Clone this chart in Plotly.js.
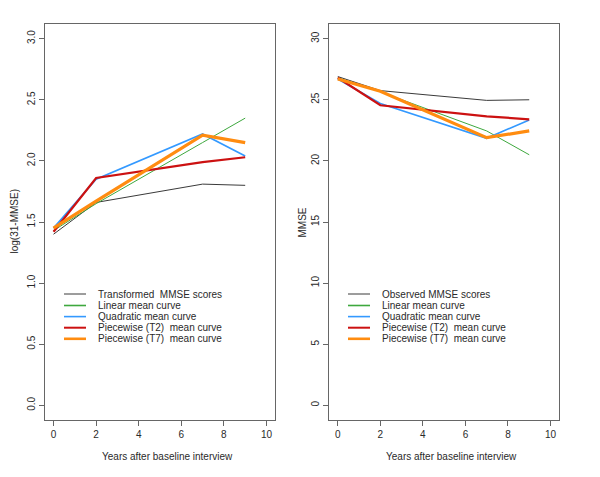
<!DOCTYPE html>
<html>
<head>
<meta charset="utf-8">
<script src="https://cdn.plot.ly/plotly-3.0.1.min.js"></script>
<style>html,body{margin:0;padding:0;background:#fff;}#chart{width:600px;height:477px;}</style>
</head>
<body>
<div id="chart"></div>
<script>
// ---- data ----
var years = [0, 2, 7, 9];

// left panel: log(31-MMSE)
var logObserved  = [1.40, 1.66, 1.81, 1.80];
var logLinear    = [1.43, 1.65, 2.15, 2.35];
var logQuadratic = [1.45, 1.85, 2.22, 2.04];
var logPwT2      = [1.42, 1.86, 1.99, 2.03];
var logPwT7      = [1.45, 1.67, 2.21, 2.15];

// right panel: MMSE
var mmseObserved  = [26.9, 25.75, 24.95, 25.0];
var mmseLinear    = [26.8, 25.65, 22.45, 20.5];
var mmseQuadratic = [26.7, 24.7, 21.85, 23.35];
var mmsePwT2      = [26.8, 24.55, 23.65, 23.4];
var mmsePwT7      = [26.7, 25.7, 21.9, 22.45];

var leftLabels  = ["Transformed  MMSE scores", "Linear mean curve", "Quadratic mean curve", "Piecewise (T2)  mean curve", "Piecewise (T7)  mean curve"];
var rightLabels = ["Observed MMSE scores", "Linear mean curve", "Quadratic mean curve", "Piecewise (T2)  mean curve", "Piecewise (T7)  mean curve"];

var xTickVals = [0, 2, 4, 6, 8, 10];
var leftYTicks = [0, 0.5, 1, 1.5, 2, 2.5, 3];
var leftYTickText = ["0.0", "0.5", "1.0", "1.5", "2.0", "2.5", "3.0"];
var rightYTicks = [0, 5, 10, 15, 20, 25, 30];

// ---- styles ----
var colors = ["#3a3a3a", "#3ea83e", "#3399ff", "#cc1111", "#ff8c10"];
var widths = [1, 1, 1.6, 2.2, 3.2];
var legendWidths = [1, 1.6, 1.6, 2, 2.6];

var leftSeries = [logObserved, logLinear, logQuadratic, logPwT2, logPwT7];
var rightSeries = [mmseObserved, mmseLinear, mmseQuadratic, mmsePwT2, mmsePwT7];

var traces = [];
leftSeries.forEach(function (s, i) {
  traces.push({x: years, y: s, type: "scatter", mode: "lines", name: leftLabels[i],
    line: {color: colors[i], width: widths[i]}, xaxis: "x", yaxis: "y", showlegend: false});
});
rightSeries.forEach(function (s, i) {
  traces.push({x: years, y: s, type: "scatter", mode: "lines", name: rightLabels[i],
    line: {color: colors[i], width: widths[i]}, xaxis: "x2", yaxis: "y2", showlegend: false});
});

var W = 600, H = 477;
function px(x) { return x / W; }
function py(y) { return 1 - y / H; }

var font = {family: "Liberation Sans, Arial, sans-serif", size: 10, color: "#2a2a2a"};
var axisCommon = {
  showgrid: false, zeroline: false, showline: true, mirror: true,
  linecolor: "#666", linewidth: 1, ticks: "outside", ticklen: 5, tickcolor: "#666",
  tickfont: font, fixedrange: true
};

var shapes = [], annotations = [];
var rowY = [294, 305.5, 316.6, 327.7, 338.8];
function legend(lineX0, lineX1, textX, labels) {
  labels.forEach(function (lab, i) {
    shapes.push({type: "line", xref: "paper", yref: "paper",
      x0: px(lineX0), x1: px(lineX1), y0: py(rowY[i]), y1: py(rowY[i]),
      line: {color: colors[i], width: legendWidths[i]}});
    annotations.push({xref: "paper", yref: "paper", x: px(textX), y: py(rowY[i]),
      xanchor: "left", yanchor: "middle", text: lab, showarrow: false, font: font});
  });
}
legend(64, 86, 96, leftLabels);
legend(348, 370, 380, rightLabels);

annotations.push({xref: "paper", yref: "paper", x: px(167), y: py(456.7), xanchor: "center", yanchor: "middle",
  text: "Years after baseline interview", showarrow: false, font: font});
annotations.push({xref: "paper", yref: "paper", x: px(451.5), y: py(456.7), xanchor: "center", yanchor: "middle",
  text: "Years after baseline interview", showarrow: false, font: font});
annotations.push({xref: "paper", yref: "paper", x: px(13.5), y: py(222), xanchor: "center", yanchor: "middle",
  text: "log(31-MMSE)", textangle: -90, showarrow: false, font: font});
annotations.push({xref: "paper", yref: "paper", x: px(301.5), y: py(222), xanchor: "center", yanchor: "middle",
  text: "MMSE", textangle: -90, showarrow: false, font: font});

var layout = {
  width: W, height: H,
  margin: {l: 0, r: 0, t: 0, b: 0},
  paper_bgcolor: "#fff", plot_bgcolor: "#fff",
  font: font,
  showlegend: false,
  xaxis: Object.assign({}, axisCommon, {domain: [px(45), px(275)], range: [-0.4, 10.4], tickvals: xTickVals, anchor: "y"}),
  yaxis: Object.assign({}, axisCommon, {domain: [py(420), py(24)], range: [-0.12, 3.12], tickvals: leftYTicks, ticktext: leftYTickText, tickangle: -90, anchor: "x"}),
  xaxis2: Object.assign({}, axisCommon, {domain: [px(329.3), px(559)], range: [-0.4, 10.4], tickvals: xTickVals, anchor: "y2"}),
  yaxis2: Object.assign({}, axisCommon, {domain: [py(420), py(24)], range: [-1.2, 31.2], tickvals: rightYTicks, tickangle: -90, anchor: "x2"}),
  shapes: shapes,
  annotations: annotations
};

Plotly.newPlot("chart", traces, layout, {displayModeBar: false, staticPlot: true});
</script>
</body>
</html>
